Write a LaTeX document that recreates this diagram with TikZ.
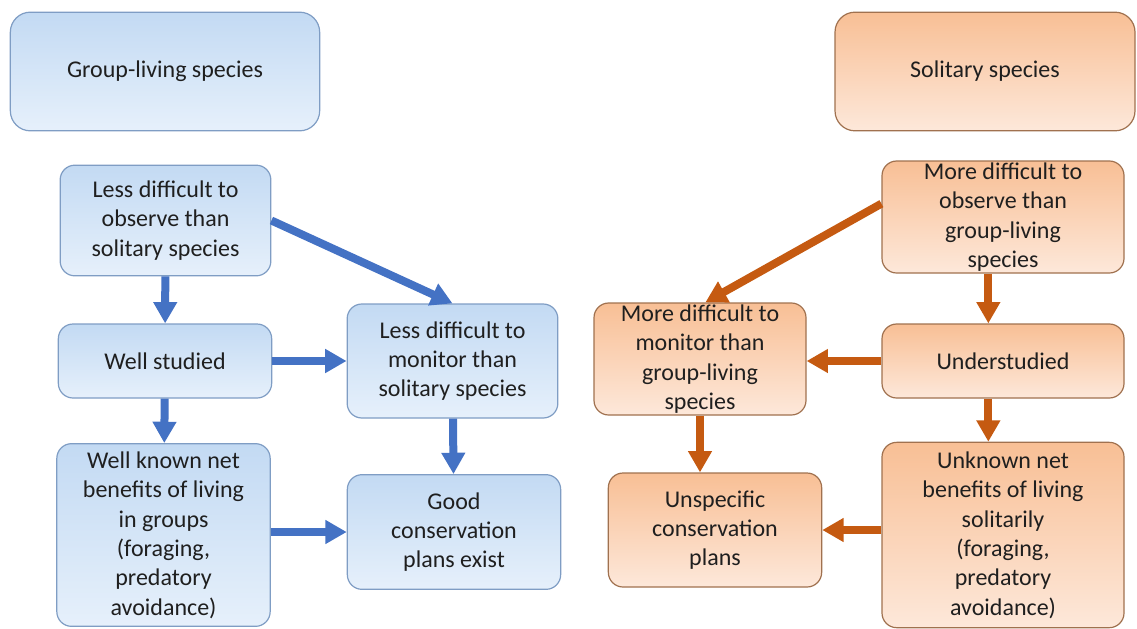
\documentclass[tikz,border=0pt]{standalone}
\usepackage{fontspec}
\setmainfont{Carlito}
\usetikzlibrary{arrows.meta}
\definecolor{txtgray}{HTML}{1F1F1F}
\definecolor{grpTop}{HTML}{C3DAF3}
\definecolor{grpBot}{HTML}{E6F0FB}
\definecolor{grpLine}{HTML}{7F9DC4}
\definecolor{grpArrow}{HTML}{4472C4}
\definecolor{solTop}{HTML}{F8BF95}
\definecolor{solBot}{HTML}{FDE8DA}
\definecolor{solLine}{HTML}{A0714F}
\definecolor{solArrow}{HTML}{C55A11}
\begin{document}
\begin{tikzpicture}[x=0.75pt, y=-0.75pt,
    every node/.style={font=\fontsize{18}{22}\selectfont, text=txtgray, align=center, inner sep=1pt, rounded corners=11pt},
    grpbox/.style={draw=grpLine, line width=0.9pt, top color=grpTop, bottom color=grpBot},
    solbox/.style={draw=solLine, line width=0.9pt, top color=solTop, bottom color=solBot},
    grparrow/.style={draw=grpArrow, line width=6pt, -{Triangle[width=17pt,length=16pt]}},
    solarrow/.style={draw=solArrow, line width=6pt, -{Triangle[width=17pt,length=16pt]}}]
    \useasboundingbox (0,0) rectangle (1137,628);

    % group-living side
    \node [grpbox, minimum width=232pt, minimum height=89pt, rounded corners=15pt] (GroupLiving) at (165,71.5) {Group-living species};
    \node [grpbox, minimum width=158pt, minimum height=83pt] (LessObserve) at (165.5,220.5) {Less difficult to\\observe than\\solitary species};
    \node [grpbox, minimum width=160pt, minimum height=55.5pt] (WellStudied) at (165,361) {Well studied};
    \node [grpbox, minimum width=160pt, minimum height=137pt] (WellKnown) at (163.5,535) {Well known net\\benefits of living\\in groups\\(foraging,\\predatory\\avoidance)};
    \node [grpbox, minimum width=158pt, minimum height=85.5pt] (LessMonitor) at (452.5,361) {Less difficult to\\monitor than\\solitary species};
    \node [grpbox, minimum width=160pt, minimum height=86pt] (GoodPlans) at (454,532) {Good\\conservation\\plans exist};

    % solitary side
    \node [solbox, minimum width=225pt, minimum height=89pt, rounded corners=15pt] (Solitary) at (985,71.5) {Solitary species};
    \node [solbox, minimum width=181.5pt, minimum height=84pt] (MoreObserve) at (1003,217) {More difficult to\\observe than\\group-living\\species};
    \node [solbox, minimum width=159pt, minimum height=84pt] (MoreMonitor) at (700,359) {More difficult to\\monitor than\\group-living\\species};
    \node [solbox, minimum width=181.5pt, minimum height=55.5pt] (Understudied) at (1003,361) {Understudied};
    \node [solbox, minimum width=160pt, minimum height=85.5pt] (Unspecific) at (715,530) {Unspecific\\conservation\\plans};
    \node [solbox, minimum width=181.5pt, minimum height=139pt] (Unknown) at (1003,535) {Unknown net\\benefits of living\\solitarily\\(foraging,\\predatory\\avoidance)};

    \draw [grparrow] (LessObserve) -- (WellStudied);
    \draw [grparrow] (LessObserve.east) -- (LessMonitor.north);
    \draw [grparrow] (WellStudied) -- (LessMonitor);
    \draw [grparrow] (WellStudied) -- (WellKnown);
    \draw [grparrow] (LessMonitor) -- (GoodPlans);
    \draw [grparrow] (WellKnown.east |- GoodPlans) -- (GoodPlans.west);

    \draw [solarrow] ([yshift=10pt]MoreObserve.west) -- ([xshift=4pt]MoreMonitor.north);
    \draw [solarrow] ([xshift=-11pt]MoreObserve.south) -- ([xshift=-11pt]Understudied.north);
    \draw [solarrow] (Understudied.west) -- (Understudied.west -| MoreMonitor.east);
    \draw [solarrow] ([xshift=-11pt]Understudied.south) -- ([xshift=-11pt]Unknown.north);
    \draw [solarrow] (MoreMonitor.south) -- (MoreMonitor.south |- Unspecific.north);
    \draw [solarrow] (Unknown.west |- Unspecific) -- (Unspecific.east);
\end{tikzpicture}
\end{document}
